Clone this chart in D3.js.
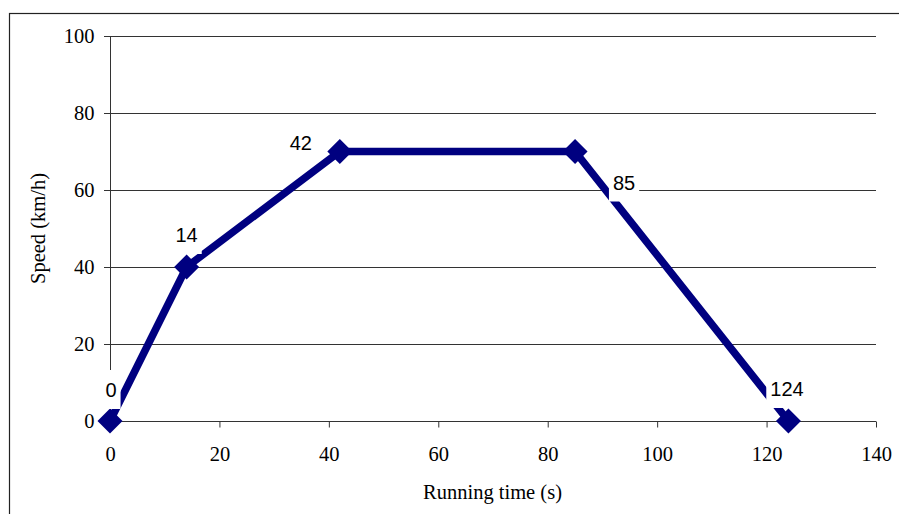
<!DOCTYPE html>
<html>
<head>
<meta charset="utf-8">
<script src="https://cdn.jsdelivr.net/npm/d3@7"></script>
<style>
  html, body { margin: 0; padding: 0; background: #fff; }
  svg { display: block; }
</style>
</head>
<body>
<svg id="chart" width="899" height="514"></svg>
<script>
// Speed profile of one run: time (s) against speed (km/h)
const times = [0, 14, 42, 85, 124];
const speeds = [0, 40, 70, 70, 0];
const xTicks = [0, 20, 40, 60, 80, 100, 120, 140];
const yTicks = [0, 20, 40, 60, 80, 100];
const xTitle = "Running time (s)";
const yTitle = "Speed (km/h)";

// label placement around each point (dx, dy of text centre)
const labelOffsets = [[1, -31], [0, -32], [-39, -8.5], [49, 31], [-1.5, -32]];

const SERIF = '"Liberation Serif", "Times New Roman", serif';
const SANS = '"Liberation Sans", Arial, sans-serif';

const svg = d3.select("#chart");
const plot = { left: 110, right: 876, top: 36, bottom: 421 };

const x = d3.scaleLinear().domain([0, 140]).range([plot.left, plot.right]);
const y = d3.scaleLinear().domain([0, 100]).range([plot.bottom, plot.top]);

// chart frame
svg.append("rect")
  .attr("x", 9.5).attr("y", 13.5)
  .attr("width", 1000).attr("height", 600)
  .attr("fill", "none").attr("stroke", "#222").attr("stroke-width", 1.2);

// horizontal gridlines with outward ticks
svg.append("g")
  .selectAll("line")
  .data(yTicks)
  .join("line")
  .attr("x1", plot.left - 6).attr("x2", plot.right)
  .attr("y1", d => Math.round(y(d)) + 0.5).attr("y2", d => Math.round(y(d)) + 0.5)
  .attr("stroke", "#333").attr("stroke-width", 1);

function styleAxis(g) {
  g.attr("font-family", null).attr("font-size", null);
  g.selectAll(".tick line").attr("stroke", "#333");
  g.selectAll("text")
    .style("font-family", SERIF)
    .style("font-size", "20.5px")
    .attr("fill", "#000");
}

// y axis
const yAxis = svg.append("g")
  .attr("transform", `translate(${plot.left + 0.5},0)`)
  .call(d3.axisLeft(y).tickValues(yTicks).tickSize(6).tickPadding(10).tickFormat(d3.format("d")));
yAxis.select(".domain").attr("stroke", "#333").attr("d", `M0,${plot.top}V${plot.bottom}`);
styleAxis(yAxis);

// x axis
const xAxis = svg.append("g")
  .attr("transform", `translate(0,${Math.round(y(0)) + 0.5})`)
  .call(d3.axisBottom(x).tickValues(xTicks).tickSize(6).tickPadding(19).tickFormat(d3.format("d")));
xAxis.select(".domain").attr("stroke", "#333").attr("d", `M${plot.left},0H${plot.right}`);
styleAxis(xAxis);

// axis titles
svg.append("text")
  .attr("x", (plot.left + plot.right) / 2 - 0.5).attr("y", 499)
  .attr("text-anchor", "middle")
  .style("font-family", SERIF).style("font-size", "20.5px")
  .text(xTitle);

svg.append("text")
  .attr("transform", `translate(44.5,${(plot.top + plot.bottom) / 2}) rotate(-90)`)
  .attr("text-anchor", "middle")
  .style("font-family", SERIF).style("font-size", "20.5px")
  .text(yTitle);

const points = times.map((t, i) => ({ t, v: speeds[i], off: labelOffsets[i] }));

// speed line
svg.append("path")
  .datum(points)
  .attr("fill", "none")
  .attr("stroke", "#000080")
  .attr("stroke-width", 7.5)
  .attr("stroke-linejoin", "miter")
  .attr("d", d3.line().x(d => x(d.t)).y(d => y(d.v)));

// diamond markers
const r = 12.5;
svg.append("g")
  .selectAll("path")
  .data(points)
  .join("path")
  .attr("transform", d => `translate(${x(d.t)},${y(d.v)})`)
  .attr("d", `M0,${-r}L${r},0L0,${r}L${-r},0Z`)
  .attr("fill", "#000080");

// data labels on white boxes
const labels = svg.append("g")
  .selectAll("g")
  .data(points)
  .join("g")
  .attr("transform", d => `translate(${x(d.t) + d.off[0]},${y(d.v) + d.off[1]})`);

labels.append("rect").attr("fill", "#fff");
labels.append("text")
  .attr("text-anchor", "middle")
  .attr("y", 7)
  .style("font-family", SANS).style("font-size", "20px")
  .attr("fill", "#000")
  .text(d => d.t);

labels.each(function () {
  const g = d3.select(this);
  const w = g.select("text").node().getBBox().width;
  g.select("rect")
    .attr("x", -w / 2 - 4).attr("width", w + 8)
    .attr("y", 7 - 27).attr("height", 39);
});
</script>
</body>
</html>
